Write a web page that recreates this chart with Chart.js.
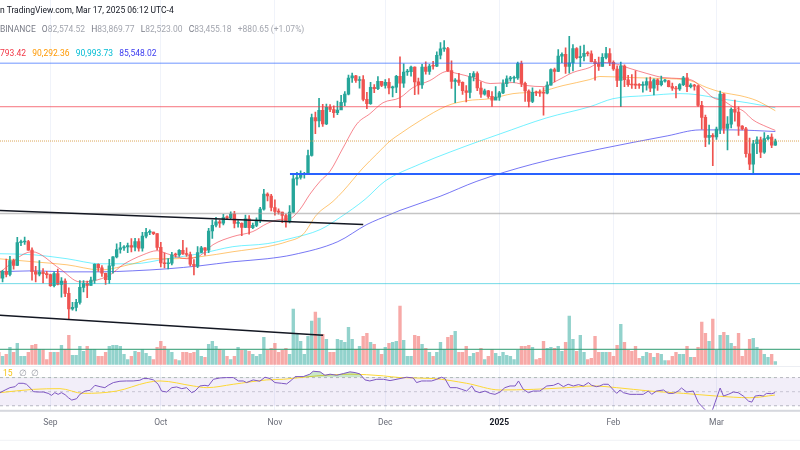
<!DOCTYPE html>
<html>
<head>
<meta charset="utf-8">
<script src="https://cdn.jsdelivr.net/npm/chart.js@4.4.1/dist/chart.umd.min.js"></script>
<style>
  html, body { margin: 0; padding: 0; background: #fff; }
  #wrap { position: relative; width: 800px; height: 450px; overflow: hidden; font-family: Roboto, "Noto Sans", sans-serif; }
  #chart { position: absolute; left: 0; top: 0; }
  .txt { position: absolute; white-space: nowrap; font-size: 8.5px; line-height: 10px; }
  .txt span { margin-right: 4px; }
</style>
</head>
<body>
<div id="wrap">
  <canvas id="chart" width="800" height="450"></canvas>
  <div class="txt" style="left:0;top:5px;color:#131722">n TradingView.com, Mar 17, 2025 06:12 UTC-4</div>
  <div class="txt" style="left:0;top:24px;color:#a3a6af">
    <span style="color:#787b86">BINANCE</span>
    <span><b style="font-weight:normal;color:#787b86">O</b>82,574.52</span>
    <span><b style="font-weight:normal;color:#787b86">H</b>83,869.77</span>
    <span><b style="font-weight:normal;color:#787b86">L</b>82,523.00</span>
    <span><b style="font-weight:normal;color:#787b86">C</b>83,455.18</span>
    <span>+880.65 (+1.07%)</span>
  </div>
  <div class="txt" style="left:0;top:48px">
    <span style="color:#f23645">793.42</span>
    <span style="color:#ff9800">90,292.36</span>
    <span style="color:#00bcd4">90,993.73</span>
    <span style="color:#3d3df0">85,548.02</span>
  </div>
  <div class="txt" style="left:3px;top:368px;color:#f5c518">15 <span style="color:#9a9da6;margin-left:4px">&#8709;</span><span style="color:#9a9da6">&#8709;</span></div>
</div>
<script>
// ---- daily candles, Aug 18 2024 (day 0) .. Mar 17 2025 (day 211)
const firstOpen = 59491;
const closes = [
  58430, 59450, 59010, 61160, 60380, 64090, 64180, 64250, 62830, 59420, 59030, 59370, 59120, 58970,
  57300, 59130, 57490, 57970, 56160, 53950, 54160, 54870, 57040, 57650, 57340, 58130, 60570, 60000, 59180, 58200,
  60310, 61760, 62950, 63200, 63350, 63580, 63340, 64260, 63150, 65180, 65800, 65880, 65600, 63300,
  60800, 60650, 60750, 62090, 62050, 62820, 62220, 62130, 60580, 60270, 62450, 63200, 62850, 66050, 67040, 67620,
  67420, 68400, 68360, 69000, 67370, 67370, 66650, 68160, 66600, 67010, 67930, 69900, 72700, 72340, 70200,
  69480, 69360, 68770, 67780, 69370, 75640, 75900, 76540, 76680, 80370, 88700, 87950, 90380, 87250, 91070,
  90590, 89850, 90460, 92300, 94290, 98320, 98890, 97670, 97900, 93010, 91970, 95950, 95640, 97460, 96410,
  97190, 95840, 96000, 98770, 96990, 99870, 99920, 101120, 97340, 96590, 101120, 99990, 101420, 101370, 104300, 106060,
  106140, 100200, 97460, 97760, 97220, 95100, 94690, 98650, 99450, 95790, 94260, 95110, 93710, 92780, 93550,
  94590, 96880, 98110, 98240, 98320, 102080, 96950, 95040, 92480, 94700, 94560, 94510, 94500, 96530, 100500, 99990,
  104080, 104560, 101330, 102260, 106150, 103650, 103960, 104820, 104710, 102590, 102080, 101330, 103730, 104730, 102430,
  100640, 97690, 101400, 97870, 96620, 96550, 96500, 96460, 96480, 97430, 95780, 97870, 96610, 97500,
  97570, 96120, 95770, 95540, 96630, 98330, 96130, 96550, 96250, 91550, 88740, 84250, 84700, 84350,
  86060, 94270, 86220, 87220, 90620, 89960, 86740, 86150, 80730, 78600, 82860, 83720, 81070, 83970, 84340, 82575, 83455
];
const highs = [
  60280, 59620, 61400, 61820, 61400, 64950, 64500, 65000, 64480, 63220, 60230, 61170, 59900, 59460,
  59050, 59400, 59810, 58520, 58330, 56990, 54850, 55300, 58050, 58040, 57990, 58600, 60650, 60640, 60380, 59210,
  61350, 61790, 63870, 64130, 63580, 64000, 64750, 64800, 64740, 65800, 66500, 66260, 65860, 65620,
  64130, 62390, 61470, 62490, 62370, 62950, 64480, 63200, 62520, 61320, 63420, 63480, 63270, 66500, 67950, 68420,
  67940, 68990, 68700, 69400, 69500, 67840, 67450, 68850, 68770, 67400, 68330, 70250, 73620, 72960, 72660,
  71630, 69950, 69390, 69000, 70580, 76400, 76950, 77250, 76950, 81500, 89530, 89950, 93260, 91780, 91850,
  91750, 91480, 92600, 94000, 94900, 99070, 99590, 99000, 98700, 98940, 94740, 97200, 96670, 98690, 97460,
  97900, 98160, 96300, 99000, 103900, 101980, 100550, 101400, 101200, 98270, 101890, 102540, 101900, 102650, 105250, 107790,
  108350, 106470, 102800, 98150, 99540, 97360, 96420, 99500, 99960, 99880, 97350, 95500, 95200, 94900, 96150,
  94950, 97840, 98900, 98720, 98800, 102480, 102720, 97260, 95350, 95830, 95000, 95360, 95900, 97370, 100700, 100880,
  105860, 104990, 106320, 109590, 107240, 106400, 106850, 107100, 105290, 105480, 103220, 103780, 104780, 106460, 106100,
  102780, 101460, 102500, 101750, 99000, 99200, 100140, 96900, 97320, 98350, 98520, 98120, 98100, 98830,
  97970, 97730, 97040, 96230, 96900, 98750, 99500, 96920, 96700, 96500, 92500, 89300, 87000, 85100,
  86560, 95000, 94420, 88910, 91000, 92810, 91230, 86880, 86500, 84120, 83620, 84360, 84320, 85310, 84680, 85050, 83870
];
const lows = [
  58400, 57850, 58620, 58780, 59800, 60350, 63580, 63800, 62800, 58120, 57860, 58760, 57720, 58430,
  57200, 57120, 57410, 55610, 55670, 52550, 53750, 53650, 54600, 56380, 55550, 57320, 57630, 59450, 58700, 57490,
  57630, 59170, 61570, 62340, 62780, 62420, 62560, 62720, 62660, 62680, 64850, 65430, 65420, 62860,
  60160, 59990, 59830, 60460, 61690, 61830, 62130, 61820, 60300, 58900, 60050, 62430, 62030, 62420, 64800, 66750,
  66660, 67120, 68000, 68140, 66570, 66700, 65260, 66600, 65500, 66430, 66800, 67500, 69730, 71430, 69590,
  68820, 69020, 67480, 66720, 67450, 69300, 74420, 75570, 75750, 76480, 80220, 85080, 86600, 86660, 87080,
  90050, 88720, 89350, 90910, 91500, 94090, 97180, 97180, 95740, 92600, 90790, 91800, 94650, 95350, 96130,
  95780, 94300, 93580, 94660, 91000, 95950, 98950, 98800, 94150, 94260, 95700, 99310, 99210, 100630, 101230, 103330,
  105320, 100000, 95670, 92230, 96420, 94200, 92400, 93380, 97600, 95140, 93500, 94020, 93280, 91320, 92950,
  92740, 94400, 96100, 97500, 97200, 97940, 96130, 92500, 91200, 92200, 93900, 93700, 89250, 94310, 96500, 97340,
  99950, 102280, 99520, 99550, 100120, 103320, 101250, 102750, 104100, 102520, 97780, 100270, 101330, 103300, 101550,
  100300, 96150, 91230, 96150, 96160, 95700, 95650, 95700, 94750, 95260, 94870, 94090, 95220, 96290,
  97230, 96050, 95200, 93380, 95200, 96400, 94870, 95800, 95230, 91330, 86050, 82250, 82780, 78250,
  83800, 85040, 85120, 81530, 86330, 87850, 84670, 85900, 80000, 77460, 76610, 80770, 79940, 80820, 83680, 82020, 82523
];
// volume, thousand BTC
const volumes = [
  12, 8, 10, 17, 12, 21, 8, 8, 12, 19, 20, 15, 15, 5, 12, 12, 12, 19, 15, 29,
  9, 9, 18, 13, 18, 15, 15, 8, 8, 12, 18, 19, 19, 18, 10, 5, 8, 13, 12, 15,
  11, 8, 5, 17, 23, 18, 14, 12, 5, 4, 12, 12, 11, 12, 14, 8, 7, 20, 23, 18,
  15, 14, 8, 5, 8, 17, 14, 14, 13, 10, 8, 10, 27, 14, 16, 21, 12, 14, 16, 10,
  55, 30, 23, 10, 28, 43, 52, 46, 30, 25, 12, 12, 25, 24, 22, 37, 25, 15, 18, 28,
  31, 22, 20, 15, 10, 17, 21, 22, 23,
  58, 24, 8, 8, 29, 28, 20, 16, 12, 8, 12, 22, 15, 27, 29, 33, 12, 12, 18, 8,
  11, 12, 16, 5, 8, 15, 11, 8, 12, 9, 8, 5, 14, 18, 18, 19, 17, 5, 6, 23,
  16, 17, 16, 18, 13, 22, 48, 25, 13, 29, 12, 5, 6, 28, 12, 12, 12, 12, 8, 19,
  40, 22, 14, 13, 18, 6, 8, 12, 11, 7, 11, 10, 4, 4, 8, 12, 10, 10, 18, 7,
  7, 17, 42, 31, 23, 45, 14, 29, 32, 29, 21, 18, 31, 8, 15, 25, 26, 17, 15, 10,
  7, 10, 3
];

// ---- moving averages (day, price)
const redMaDays = [0, 9, 16.6, 22, 25.6, 30.2, 33.7, 39.2, 43, 45.7, 51.1, 54.6, 58.2, 63.6, 69, 72.9, 76.4, 79.1, 81.8, 84.5, 87.3, 90, 93.5, 97.3, 100.8, 104.4, 109, 112.5, 117.1, 121.8, 124.5, 128.8, 133.5, 139.7, 143.5, 147.9, 151.7, 156, 160.6, 163.3, 166.9, 171.5, 176.1, 180.5, 185.1, 188.6, 191.3, 194.1, 196.8, 199.5, 202.2, 204.9, 208.7, 211];
const redMaValues = [59240, 62580, 59860, 57860, 58010, 58920, 60490, 62090, 62750, 62260, 61450, 61930, 63740, 65100, 65950, 67350, 68060, 68230, 69860, 72660, 75170, 77160, 81950, 87270, 89580, 92200, 93410, 95890, 97660, 100000, 99470, 98430, 96910, 97160, 96400, 96140, 97660, 99740, 101050, 102380, 102150, 100780, 99470, 98430, 98180, 97660, 95640, 93410, 92680, 91240, 90290, 88180, 86580, 85793];
const orangeMaDays = [0, 9.3, 18.5, 27.5, 36.4, 41.9, 47.3, 54.6, 63.6, 72.9, 78.3, 82.6, 86.4, 90.8, 93.5, 98.9, 102.7, 106.3, 109, 114.4, 121.8, 127.2, 133.5, 139.7, 147, 153.3, 160.6, 163.3, 171.5, 180.5, 187.8, 192.4, 196.8, 201.4, 206, 211];
const orangeMaValues = [61450, 60970, 60490, 59700, 60650, 61450, 61450, 61770, 62580, 63410, 64240, 65440, 68940, 71340, 73230, 77780, 80680, 83460, 85020, 87960, 91470, 92680, 93170, 94400, 94890, 96400, 97920, 98700, 98430, 98180, 97660, 95890, 94640, 93910, 92680, 90292];
const cyanMaDays = [0, 9.3, 18.5, 27.5, 36.4, 45.7, 54.6, 63.6, 72.9, 79.1, 87.3, 92.7, 99.5, 104.9, 114.4, 122.6, 130.7, 136.2, 148.9, 160.6, 166.9, 176.1, 185.1, 189.7, 196, 203.3, 211];
const cyanMaValues = [62260, 62090, 61450, 60650, 60650, 61450, 62260, 63410, 63910, 64750, 66290, 68410, 71710, 75170, 78590, 81100, 83460, 85020, 88650, 91240, 93170, 93910, 94400, 94150, 93170, 92200, 90994];
const blueMaDays = [0, 9.3, 18.5, 27.5, 36.4, 45.7, 54.6, 63.6, 72.9, 79.9, 92.1, 100, 106.3, 109, 119.9, 129.9, 145.1, 163.3, 181.6, 190.5, 199.5, 211];
const blueMaValues = [59390, 59550, 59390, 59390, 59550, 59860, 60330, 60970, 61450, 62090, 64240, 67170, 68940, 69680, 72280, 75170, 78590, 81740, 84570, 85900, 85900, 85548];

// ---- RSI and its moving average (day, value)
const rsiDays = [0.3, 1.7, 3, 4.4, 5.3, 6.6, 7.5, 8.9, 9.4, 10.7, 12.1, 13.4, 14.3, 15.2, 16.1, 17, 18, 18.9, 19.8, 21.1, 22, 23.4, 24.8, 26.1, 27.5, 28.8, 29.7, 31.1, 32.9, 34.7, 36.5, 38.3, 39.2, 40.6, 42, 43.3, 44.2, 45.6, 47, 48.3, 49.7, 51, 52.4, 53.3, 54.6, 56, 56.9, 58.3, 60.1, 61.9, 63.7, 65.1, 66.4, 67.3, 69.1, 70.9, 72.3, 73.7, 75, 76.8, 78.2, 79.6, 80.5, 82.7, 84.5, 85.4, 87.3, 88.6, 90, 91.8, 93.6, 95.4, 96.8, 98.1, 99.5, 100.8, 102.7, 104.5, 106.3, 109,
  110.8, 112.6, 113.5, 114.9, 116.2, 117.6, 119, 120.3, 121.2, 122.6, 124.4, 125.8, 127.1, 128.5, 129.4, 130.7, 132.1, 133.5, 134.8, 136.2, 137.5, 138.9, 140.3, 141.2, 142.5, 143.9, 145.2, 147, 148.9, 150.7, 152, 153.4, 154.7, 156.1, 157.5, 158.8, 160.2, 161.1, 162.4, 163.3, 164.3, 165.6, 167, 167.9, 168.8, 169.7, 171.5, 173.3, 175.1, 176.5, 177.4, 178.7, 180.6, 181.9, 183.3, 184.6, 185.5, 186.9, 188.7, 190.1, 191.4, 192.3, 193.7, 194.6, 196, 196.9, 198.2, 199.6, 200.9, 202.3, 203.7, 204.6, 205.5, 206.8, 207.7, 208.6, 210, 210.9];
const rsiValues = [48.6, 52.4, 55.7, 57.1, 61.9, 61.9, 60.5, 53.3, 50, 49.5, 49.5, 47.6, 44.8, 48.6, 46.2, 48.6, 45.7, 41.4, 38.1, 40, 46.2, 50.9, 51.9, 59, 57.1, 55.7, 59, 62.9, 64.8, 65.2, 65.2, 66.2, 68.6, 68.6, 66.7, 60.5, 50.9, 49.5, 55.7, 56.7, 54.3, 55.7, 48.6, 50.9, 58.1, 59, 58.1, 67.6, 69.5, 70, 70, 65.2, 65.2, 62.9, 66.7, 64.8, 70.5, 68.6, 62.9, 61.9, 61, 66.7, 71.4, 71.4, 74.8, 79, 78.1, 73.3, 74.8, 73.3, 75.7, 78.1, 77.1, 75.2, 66.7, 65.2, 67.6, 67.6, 65.7, 68.6,
  70.5, 69.5, 62.9, 65.2, 65.2, 65.2, 67.6, 70.5, 68.6, 55.7, 55.7, 53.3, 50.9, 58.1, 50.9, 48.6, 50.9, 47.6, 46.2, 49.5, 55.7, 58.1, 58.1, 65.2, 53.3, 48.6, 50.9, 50.9, 58.1, 59, 61.9, 57.1, 60.5, 58.1, 60, 58.1, 62.9, 59, 57.1, 58.1, 60.5, 60.5, 52.4, 47.6, 52.4, 48.6, 46.2, 46.2, 46.2, 50.9, 46.2, 50.9, 52.4, 47.6, 47.6, 50.9, 55.2, 49.5, 50.9, 34.3, 27.1, 22.4, 21, 34.3, 55.2, 43.8, 46.2, 49.5, 48.6, 43.8, 36.7, 35.2, 43.8, 44.8, 43.8, 47.6, 47.1, 48.6];
const rsiMaDays = [0.3, 9.4, 16.6, 22.9, 32, 40.2, 43.8, 52.8, 56.5, 63.7, 72.8, 77.3, 86.4, 95.4, 104.5, 109, 118.1, 127.1, 136.2, 145.2, 154.3, 161.5, 167.9, 176.9, 186, 195, 204.1, 210.9];
const rsiMaValues = [48.6, 53.3, 54.3, 47.6, 50.9, 62.9, 65.2, 58.1, 55.7, 60.5, 66.7, 67.6, 72.4, 74.8, 72.4, 70, 68.6, 61.9, 52.4, 53.3, 55.7, 58.1, 55.7, 50.9, 47.6, 43.8, 41.4, 45.2];
const rsiLevels = [70, 50, 30];

// ---- drawings on the price pane
const levelTop = 102190, levelRed = 91240, levelPrice = 83455;
const levelSupport = 76620, supportFrom = 79.1;
const levelGray = 69130, levelCyan = 57600, levelGreen = 48550;
const upperTrend = [[0, 69680], [99, 67170]];
const lowerTrend = [[0, 53070], [88.1, 50360]];

// ---- time axis
const monthTicks = [14, 44, 75, 105, 136, 167, 195];
const monthLabels = ['Sep', 'Oct', 'Nov', 'Dec', '2025', 'Feb', 'Mar'];

const X_MIN = 0.3, X_MAX = 217.7;
const RSI_PANE_TOP = 366;

const opens = [firstOpen].concat(closes.slice(0, -1));
const isUp = closes.map((c, i) => c >= opens[i]);
const UP = '#26a69a', DOWN = '#ef5350';

const pts = (days, vals) => days.map((d, i) => ({ x: d, y: vals[i] }));
const flat = (v, from) => [{ x: from === undefined ? X_MIN : from, y: v }, { x: X_MAX, y: v }];

function maLine(days, vals, color) {
  return {
    type: 'line', data: pts(days, vals), yAxisID: 'y', borderColor: color,
    borderWidth: 1, pointRadius: 0, cubicInterpolationMode: 'monotone', order: 4
  };
}
function priceLevel(v, color, width, dash, from) {
  return {
    type: 'line', data: flat(v, from), yAxisID: 'y', borderColor: color,
    borderWidth: width, borderDash: dash || [], pointRadius: 0, order: 0
  };
}
function trend(seg) {
  return {
    type: 'line', data: seg.map(p => ({ x: p[0], y: p[1] })), yAxisID: 'y',
    borderColor: '#131722', borderWidth: 1.6, pointRadius: 0, order: 0
  };
}

const paneLines = {
  id: 'paneLines',
  afterDatasetsDraw(chart) {
    const { ctx, chartArea } = chart;
    ctx.save();
    ctx.fillStyle = '#eceef3';
    ctx.fillRect(0, RSI_PANE_TOP, chart.width, 1);
    ctx.fillStyle = '#d6d8de';
    ctx.fillRect(0, chartArea.bottom, chart.width, 2);
    ctx.fillStyle = '#f1f2f5';
    ctx.fillRect(0, chartArea.bottom + 30, chart.width, 1);
    ctx.restore();
  }
};

Chart.defaults.font.family = 'Roboto, "Noto Sans", sans-serif';

new Chart(document.getElementById('chart'), {
  type: 'bar',
  data: {
    datasets: [
      // drawings
      trend(upperTrend),
      trend(lowerTrend),
      priceLevel(levelTop, 'rgba(41,98,255,0.45)', 1.5),
      priceLevel(levelRed, 'rgba(242,54,69,0.7)', 1),
      priceLevel(levelPrice, 'rgba(214,150,60,0.85)', 1, [1, 1]),
      priceLevel(levelSupport, '#2962ff', 2, [], supportFrom),
      priceLevel(levelGray, 'rgba(150,150,150,0.55)', 1.5),
      priceLevel(levelCyan, 'rgba(0,188,212,0.55)', 1),
      priceLevel(levelGreen, 'rgba(56,160,120,0.85)', 1.2),
      // candles
      {
        type: 'bar', yAxisID: 'y', grouped: false, order: 1,
        data: closes.map((c, i) => ({ x: i, y: [opens[i], c] })),
        backgroundColor: isUp.map(u => u ? UP : DOWN),
        barThickness: 3, maxBarThickness: 2.7, minBarLength: 1
      },
      {
        type: 'bar', yAxisID: 'y', grouped: false, order: 2,
        data: closes.map((c, i) => ({ x: i, y: [lows[i], highs[i]] })),
        backgroundColor: isUp.map(u => u ? UP : DOWN),
        barThickness: 1, maxBarThickness: 1
      },
      // moving averages
      maLine(redMaDays, redMaValues, 'rgba(242,54,69,0.6)'),
      maLine(orangeMaDays, orangeMaValues, 'rgba(255,152,0,0.55)'),
      maLine(cyanMaDays, cyanMaValues, 'rgba(0,229,255,0.55)'),
      maLine(blueMaDays, blueMaValues, 'rgba(61,61,240,0.7)'),
      // volume
      {
        type: 'bar', yAxisID: 'yv', grouped: false, order: 6,
        data: volumes.map((v, i) => ({ x: i, y: v })),
        backgroundColor: isUp.map(u => u ? 'rgba(38,166,154,0.5)' : 'rgba(239,83,80,0.5)'),
        barThickness: 3, maxBarThickness: 2.7
      },
      // RSI pane
      {
        type: 'line', yAxisID: 'yr', data: pts(rsiDays, rsiValues), order: 3,
        borderColor: '#7e57c2', borderWidth: 1, pointRadius: 0,
        fill: { target: { value: rsiLevels[0] }, above: 'rgba(76,175,80,0.3)', below: 'rgba(0,0,0,0)' }
      },
      {
        type: 'line', yAxisID: 'yr', data: pts(rsiMaDays, rsiMaValues), order: 3,
        borderColor: '#fdd835', borderWidth: 1, pointRadius: 0, cubicInterpolationMode: 'monotone'
      },
      {
        type: 'line', yAxisID: 'yr', data: flat(rsiLevels[0]), order: 7,
        borderColor: 'rgba(120,123,134,0.5)', borderWidth: 1, borderDash: [3, 3], pointRadius: 0,
        fill: { target: { value: rsiLevels[2] }, above: 'rgba(126,87,194,0.1)', below: 'rgba(126,87,194,0.1)' }
      },
      {
        type: 'line', yAxisID: 'yr', data: flat(rsiLevels[1]), order: 7,
        borderColor: 'rgba(120,123,134,0.35)', borderWidth: 1, borderDash: [3, 3], pointRadius: 0
      },
      {
        type: 'line', yAxisID: 'yr', data: flat(rsiLevels[2]), order: 7,
        borderColor: 'rgba(120,123,134,0.5)', borderWidth: 1, borderDash: [3, 3], pointRadius: 0
      }
    ]
  },
  options: {
    responsive: false,
    animation: false,
    events: [],
    layout: { padding: { left: 0, right: 0, top: 0, bottom: 14 } },
    plugins: { legend: { display: false }, tooltip: { enabled: false } },
    scales: {
      x: {
        type: 'linear', min: X_MIN, max: X_MAX, offset: false,
        grid: { color: '#f0f3fa', drawTicks: false, offset: false },
        border: { display: false },
        afterBuildTicks: scale => { scale.ticks = monthTicks.map(v => ({ value: v })); },
        ticks: {
          autoSkip: false, maxRotation: 0, padding: 8,
          font: ctx => ({ size: 8.5, weight: monthLabels[ctx.index] === '2025' ? 'bold' : 'normal' }),
          color: ctx => monthLabels[ctx.index] === '2025' ? '#131722' : '#6a6d78',
          callback: value => monthLabels[monthTicks.indexOf(value)]
        }
      },
      y: { type: 'logarithmic', display: false, min: 41490, max: 120420 },
      yv: { type: 'linear', display: false, min: -45, max: 362 },
      yr: { type: 'linear', display: false, min: 24.29, max: 605.7 }
    }
  },
  plugins: [paneLines]
});
</script>
</body>
</html>
